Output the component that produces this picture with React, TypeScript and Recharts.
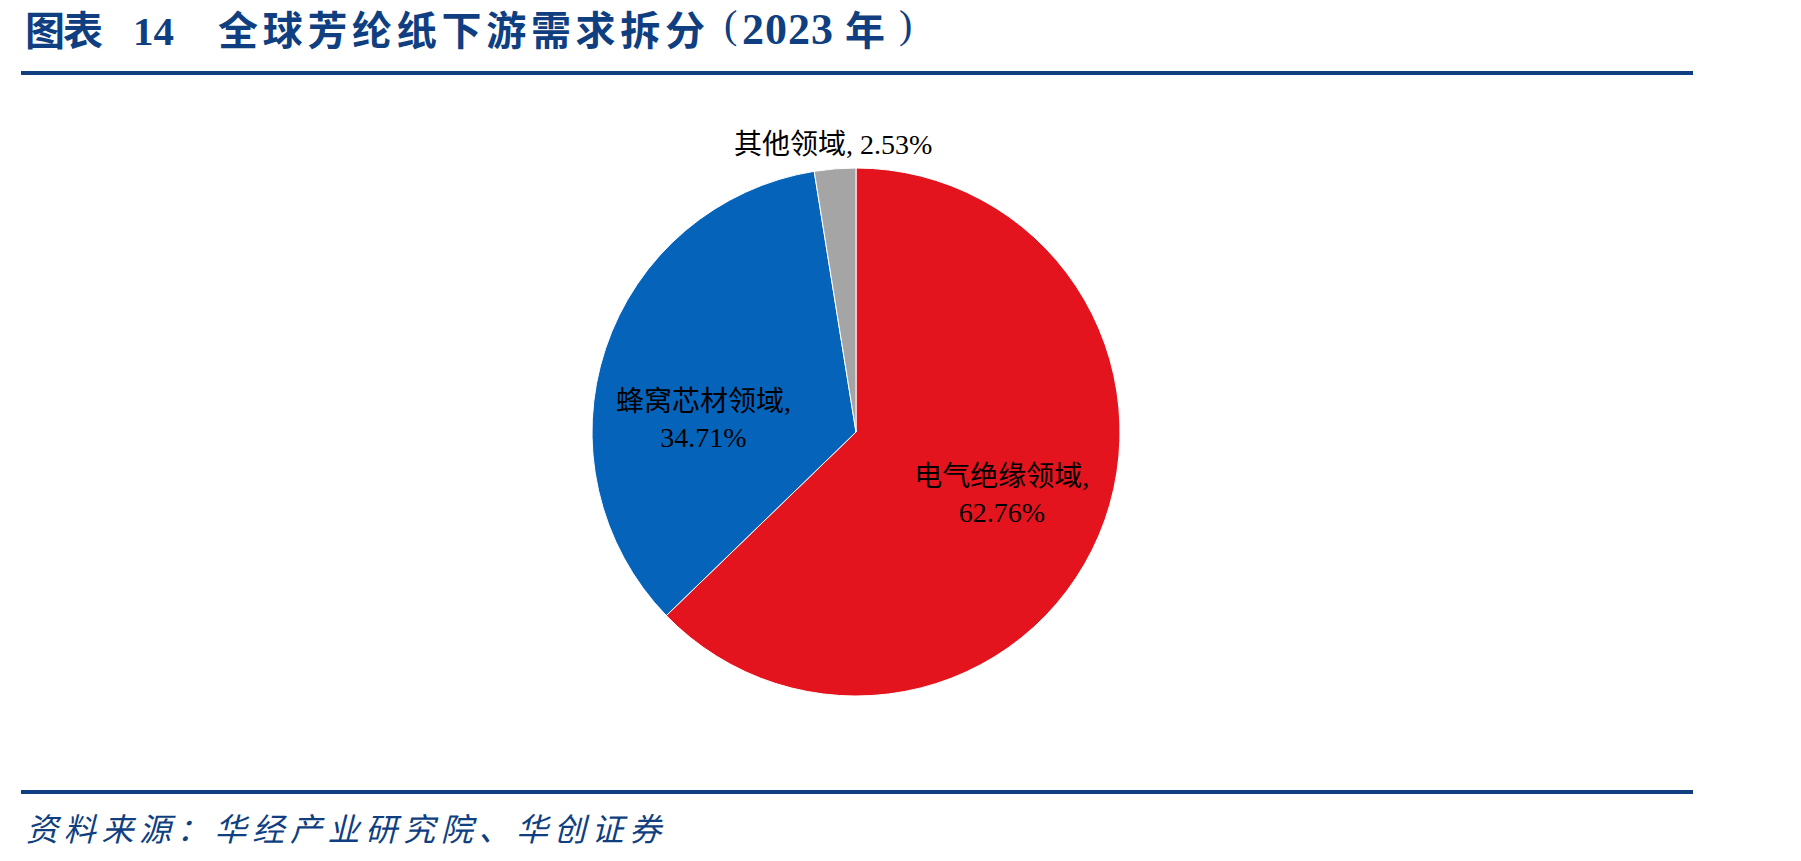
import React from 'react';
import { PieChart, Pie, Cell } from 'recharts';

const categories = ['电气绝缘领域', '蜂窝芯材领域', '其他领域'];
const shares = [62.76, 34.71, 2.53];
const colors = ['#E3141E', '#0563BA', '#A5A5A5'];

const titleLabel = '图表';
const titleNumber = '14';
const titleMain = '全球芳纶纸下游需求拆分';
const titleYear = '2023';
const titleYearUnit = '年';
const sourceText = '资料来源：华经产业研究院、华创证券';

const data = categories.map((name, i) => ({ name, value: shares[i] }));

const RADIAN = Math.PI / 180;
const LABEL_FONT = "'Liberation Serif', 'Noto Sans CJK SC', serif";
const CJK = "'Noto Sans CJK SC', sans-serif";
const SERIF = "'Liberation Serif', serif";
const NAVY = '#0F3F80';

const renderLabel = (props: any) => {
  const { cx, cy, midAngle, outerRadius, index } = props;
  const name = categories[index];
  const pct = shares[index].toFixed(2) + '%';
  const fs = 28;
  if (index === 2) {
    const r = outerRadius + 24;
    const x = cx + r * Math.cos(-midAngle * RADIAN);
    const y = cy + r * Math.sin(-midAngle * RADIAN);
    return (
      <text x={x} y={y} textAnchor="middle" dominantBaseline="central" fill="#000" fontSize={fs} fontFamily={LABEL_FONT}>
        {`${name}, ${pct}`}
      </text>
    );
  }
  const angle = index === 0 ? midAngle : 175;
  const rf = index === 0 ? 0.6 : 0.58;
  const r = outerRadius * rf;
  const x = cx + r * Math.cos(-angle * RADIAN);
  const y = cy + r * Math.sin(-angle * RADIAN);
  return (
    <text x={x} y={y} textAnchor="middle" fill="#000" fontSize={fs} fontFamily={LABEL_FONT}>
      <tspan x={x} dy={-8}>{`${name},`}</tspan>
      <tspan x={x} dy={36}>{pct}</tspan>
    </text>
  );
};

const abs = (left: number, top: number, extra: React.CSSProperties): React.CSSProperties => ({
  position: 'absolute',
  left,
  top,
  whiteSpace: 'pre',
  color: NAVY,
  fontWeight: 'bold',
  ...extra,
});

export default function App() {
  return (
    <div style={{ position: 'absolute', left: 0, top: 0, width: 1801, height: 861, background: '#fff', overflow: 'hidden' }}>
      <span style={abs(25, 8, { fontFamily: CJK, fontSize: 40, lineHeight: '40px', letterSpacing: -2 })}>{titleLabel}</span>
      <span style={abs(133, 11, { fontFamily: SERIF, fontSize: 41, lineHeight: '41px' })}>{titleNumber}</span>
      <span style={abs(218, 8, { fontFamily: CJK, fontSize: 40, lineHeight: '40px', letterSpacing: 4.7 })}>{titleMain}</span>
      <span style={abs(724, 5, { fontFamily: SERIF, fontSize: 40, lineHeight: '40px', fontWeight: 'normal' })}>(</span>
      <span style={abs(742, 8, { fontFamily: SERIF, fontSize: 44, lineHeight: '44px', letterSpacing: 1 })}>{titleYear}</span>
      <span style={abs(845, 8, { fontFamily: CJK, fontSize: 40, lineHeight: '40px' })}>{titleYearUnit}</span>
      <span style={abs(899, 5, { fontFamily: SERIF, fontSize: 40, lineHeight: '40px', fontWeight: 'normal' })}>)</span>

      <div style={{ position: 'absolute', left: 21, top: 71, width: 1672, height: 4, background: NAVY }} />
      <div style={{ position: 'absolute', left: 21, top: 790, width: 1672, height: 4, background: NAVY }} />
      <div
        style={{
          position: 'absolute',
          left: 26,
          top: 806,
          fontFamily: CJK,
          fontStyle: 'italic',
          fontSize: 32,
          letterSpacing: 5.7,
          color: NAVY,
          whiteSpace: 'pre',
          lineHeight: '42px',
        }}
      >
        {sourceText}
      </div>
      <div style={{ position: 'absolute', left: 0, top: 0 }}>
        <PieChart width={1801} height={861} margin={{ top: 0, right: 0, bottom: 0, left: 0 }}>
          <Pie
            data={data}
            dataKey="value"
            nameKey="name"
            cx={856}
            cy={432}
            outerRadius={264}
            startAngle={90}
            endAngle={-270}
            stroke="#fff"
            strokeWidth={1}
            label={renderLabel}
            labelLine={false}
            isAnimationActive={false}
          >
            {data.map((d, i) => (
              <Cell key={d.name} fill={colors[i]} />
            ))}
          </Pie>
        </PieChart>
      </div>
    </div>
  );
}
